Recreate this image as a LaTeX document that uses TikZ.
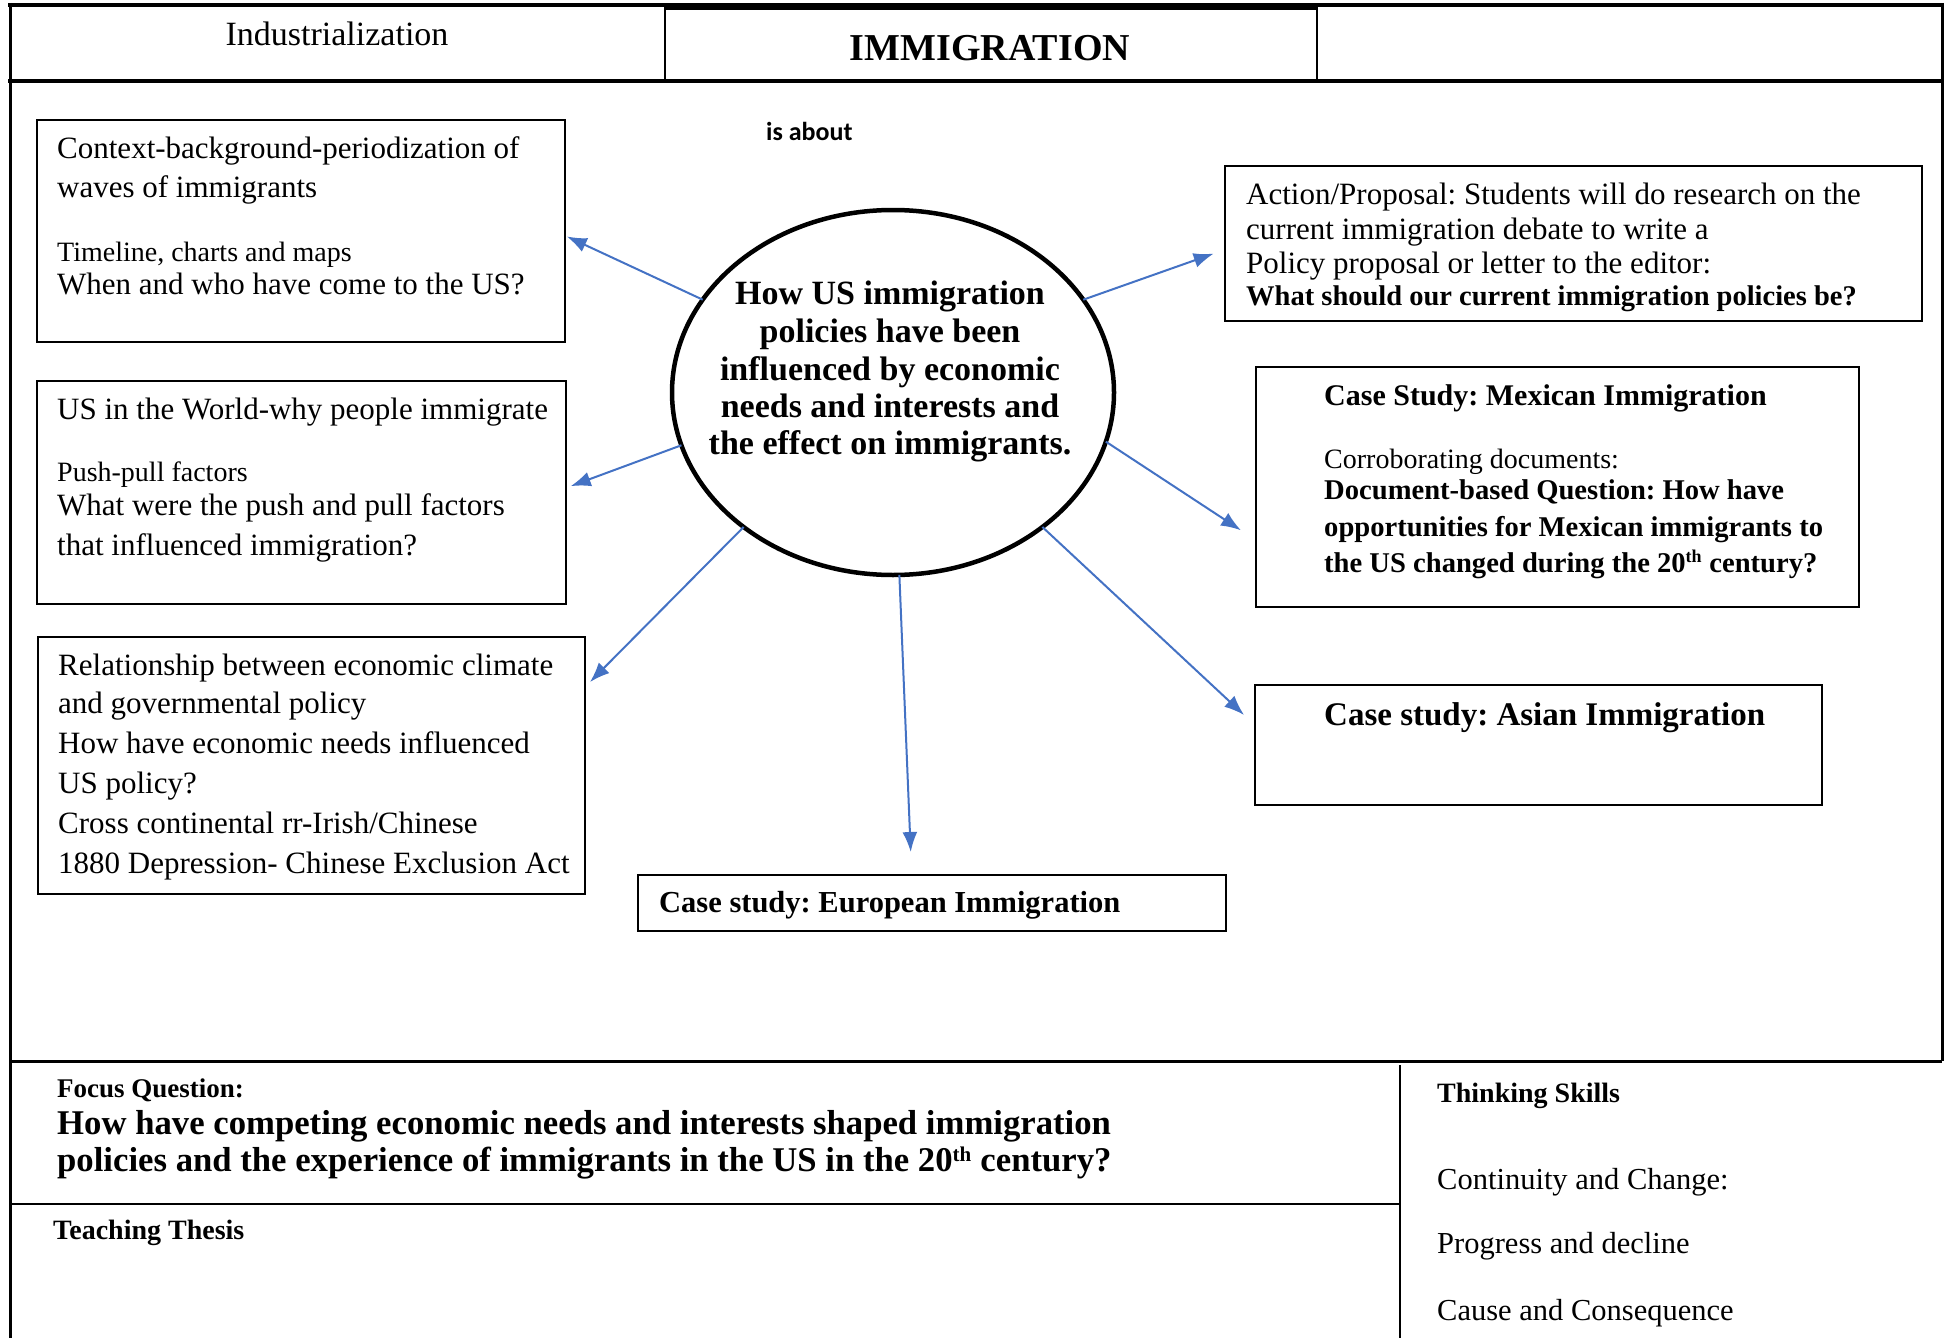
\documentclass[tikz,border=0pt]{standalone}
\usepackage{fontspec}
\setmainfont{Liberation Serif}
\newfontfamily\calib{Carlito}
\usepackage{tikz}
\usetikzlibrary{arrows.meta,shapes.geometric}
\usepackage{xcolor}
\definecolor{link_blue}{HTML}{4472C4}
\newcommand{\fsz}[1]{\fontsize{#1}{#1}\selectfont}
\frenchspacing

\begin{document}
\begin{tikzpicture}[x=1pt, y=-1pt,
	box/.style={draw, line width=2.2pt, anchor=north west, inner sep=0, outer sep=0},
	txt/.style={anchor=base west, inner sep=0, font=\fsz{31}},
	small/.style={anchor=base west, inner sep=0, font=\fsz{28}},
	strong/.style={anchor=base west, inner sep=0, font=\bfseries\fsz{28.6}},
	inner/.style={anchor=base, inner sep=0, font=\bfseries\fsz{34}},
	link/.style={draw=link_blue, line width=2pt, -{Latex[length=20pt, width=15pt]}}]
	\useasboundingbox (0,0) rectangle (1948,1338);
	% frame
	\draw[line width=4pt] (8,5) -- (1944,5);
	\draw[line width=3pt] (665,9) -- (1317,9);
	\draw[line width=4.5pt] (8,81) -- (1944,81);
	\draw[line width=1.5pt] (665,5) -- (665,81);
	\draw[line width=1.5pt] (1317,5) -- (1317,81);
	\draw[line width=3pt] (10,3) -- (10,1338);
	\draw[line width=3pt] (1942,3) -- (1942,1061);
	\draw[line width=3pt] (10,1061) -- (1942,1061);
	\draw[line width=2pt] (10,1204) -- (1400,1204);
	\draw[line width=2pt] (1400,1065) -- (1400,1338);
	\node[anchor=base, inner sep=0, font=\fsz{34}] (ind) at (337,46) {Industrialization};
	\node[anchor=base, inner sep=0, font=\bfseries\fsz{38}] (title) at (990,60) {IMMIGRATION};
	\node[anchor=base west, inner sep=0, font=\calib\bfseries\fsz{26}] (about) at (766,140) {is about};
	% centre
	\node[draw, ellipse, line width=4.5pt, minimum width=442pt, minimum height=365pt, inner sep=0, outer sep=0] (idea) at (893,392.5) {};
	\node[inner] (idea1) at (890,304) {How US immigration};
	\node[inner] (idea2) at (890,342) {policies have been};
	\node[inner] (idea3) at (890,380) {influenced by economic};
	\node[inner] (idea4) at (890,417) {needs and interests and};
	\node[inner] (idea5) at (890,454) {the effect on immigrants.};
	% boxes
	\node[box, minimum width=528pt, minimum height=222pt] (ctx) at (37,120) {};
	\node[txt] (ctx1) at (57,158) {Context-background-periodization of};
	\node[txt] (ctx2) at (57,197) {waves of immigrants};
	\node[small] (ctx3) at (57,261) {Timeline, charts and maps};
	\node[txt] (ctx4) at (57,294) {When and who have come to the US?};
	\node[box, minimum width=529pt, minimum height=223pt] (push) at (37,381) {};
	\node[txt] (push1) at (57,419) {US in the World-why people immigrate};
	\node[small] (push2) at (57,481) {Push-pull factors};
	\node[txt] (push3) at (57,515) {What were the push and pull factors};
	\node[txt] (push4) at (57,555) {that influenced immigration?};
	\node[box, minimum width=547pt, minimum height=257pt] (econ) at (38,637) {};
	\node[txt] (econ1) at (58,675) {Relationship between economic climate};
	\node[txt] (econ2) at (58,713) {and governmental policy};
	\node[txt] (econ3) at (58,753) {How have economic needs influenced};
	\node[txt] (econ4) at (58,793) {US policy?};
	\node[txt] (econ5) at (58,833) {Cross continental rr-Irish/Chinese};
	\node[txt] (econ6) at (58,873) {1880 Depression- Chinese Exclusion Act};
	\node[box, minimum width=588pt, minimum height=56pt] (euro) at (638,875) {};
	\node[strong, font=\bfseries\fsz{30.5}] (euro1) at (659,912) {Case study: European Immigration};
	\node[box, minimum width=567pt, minimum height=120pt] (asia) at (1255,685) {};
	\node[strong, font=\bfseries\fsz{33}] (asia1) at (1324,725) {Case study: Asian Immigration};
	\node[box, minimum width=603pt, minimum height=240pt] (mex) at (1256,367) {};
	\node[strong, font=\bfseries\fsz{30}] (mex1) at (1324,405) {Case Study: Mexican Immigration};
	\node[small] (mex2) at (1324,468) {Corroborating documents:};
	\node[strong] (mex3) at (1324,499) {Document-based Question: How have};
	\node[strong] (mex4) at (1324,536) {opportunities for Mexican immigrants to};
	\node[strong] (mex5) at (1324,572) {the US changed during the 20\textsuperscript{\fsz{18}th} century?};
	\node[box, minimum width=697pt, minimum height=155pt] (act) at (1225,166) {};
	\node[txt] (act1) at (1246,204) {Action/Proposal: Students will do research on the};
	\node[txt] (act2) at (1246,239) {current immigration debate to write a};
	\node[txt] (act3) at (1246,273) {Policy proposal or letter to the editor:};
	\node[strong, font=\bfseries\fsz{28.5}] (act4) at (1246,305) {What should our current immigration policies be?};
	% arrows
	\draw[link, shorten >=2pt] (idea.154) -- (ctx.359);
	\draw[link, shorten >=5pt] (idea.194) -- (push.1);
	\draw[link, shorten >=7pt] (idea.222) -- (econ.16);
	\draw[link, shorten >=23pt] (idea.272) -- (euro.126);
	\draw[link, shorten >=15pt] (idea.318) -- (asia.176);
	\draw[link, shorten >=18pt] (idea.347) -- (mex.190);
	\draw[link, shorten >=12pt] (idea.26) -- (act.181);
	% bottom
	\node[strong, font=\bfseries\fsz{27}] (focus) at (57,1097) {Focus Question:};
	\node[strong, font=\bfseries\fsz{34.7}] (focus1) at (57,1134) {How have competing economic needs and interests shaped immigration};
	\node[strong, font=\bfseries\fsz{34.7}] (focus2) at (57,1171) {policies and the experience of immigrants in the US in the 20\textsuperscript{\fsz{21}th} century?};
	\node[strong, font=\bfseries\fsz{28}] (thesis) at (53,1239) {Teaching Thesis};
	\node[strong, font=\bfseries\fsz{28}] (skills) at (1437,1102) {Thinking Skills};
	\node[txt, font=\fsz{30.5}] (skill1) at (1437,1189) {Continuity and Change:};
	\node[txt, font=\fsz{30.5}] (skill2) at (1437,1253) {Progress and decline};
	\node[txt, font=\fsz{30.5}] (skill3) at (1437,1320) {Cause and Consequence};
\end{tikzpicture}
\end{document}
